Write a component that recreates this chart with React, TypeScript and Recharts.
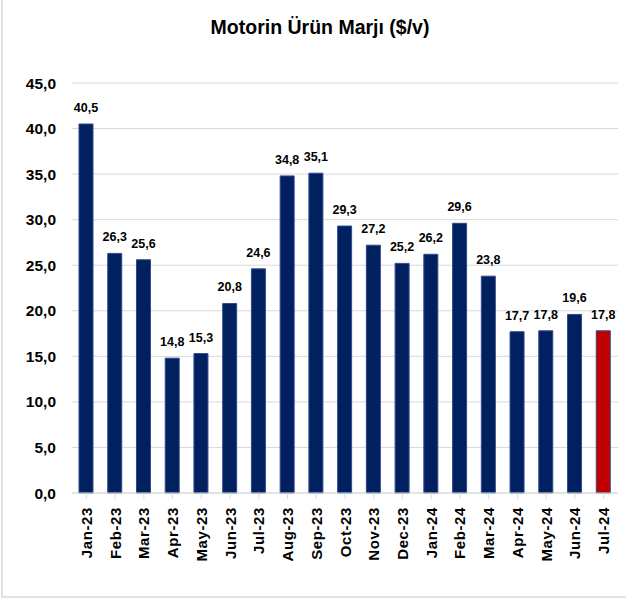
import React from "react";
import { BarChart, Bar, XAxis, YAxis, CartesianGrid, LabelList, Cell } from "recharts";

const months = [
    "Jan-23", "Feb-23", "Mar-23", "Apr-23", "May-23", "Jun-23", "Jul-23", "Aug-23", "Sep-23", "Oct-23",
    "Nov-23", "Dec-23", "Jan-24", "Feb-24", "Mar-24", "Apr-24", "May-24", "Jun-24", "Jul-24",
];
const margins = [40.5, 26.3, 25.6, 14.8, 15.3, 20.8, 24.6, 34.8, 35.1, 29.3, 27.2, 25.2, 26.2, 29.6, 23.8, 17.7, 17.8, 19.6, 17.8];
const yTicks = [0, 5, 10, 15, 20, 25, 30, 35, 40, 45];

const data = months.map((m, i) => ({ month: m, value: margins[i] }));

const fmt = (v: number) => v.toFixed(1).replace(".", ",");

const font = "'Liberation Sans', Arial, sans-serif";

const MonthTick = (props: any) => {
    const { x, y, payload } = props;
    return (
        <text
            x={x}
            y={y + 6}
            transform={`rotate(-90, ${x}, ${y + 6})`}
            textAnchor="end"
            dominantBaseline="central"
            fontFamily={font}
            fontWeight="bold"
            fontSize={15}
            letterSpacing={0.6}
            fill="#000"
        >
            {payload.value}
        </text>
    );
};

const App: React.FC = () => {
    return (
        <div style={{ position: "absolute", left: 0, top: 0, width: 626, height: 601, background: "#fff" }}>
            <svg width={626} height={601} style={{ position: "absolute", left: 0, top: 0 }}>
                <rect x={2} y={-2} width={640} height={599} fill="none" stroke="#d9d9d9" strokeWidth={1.5} />
            </svg>
            <div
                style={{
                    position: "absolute",
                    top: 16,
                    left: 0,
                    width: 640,
                    textAlign: "center",
                    fontFamily: font,
                    fontWeight: "bold",
                    fontSize: 19.5,
                    color: "#000",
                }}
            >
                Motorin Ürün Marjı ($/v)
            </div>
            <div style={{ position: "absolute", left: 0, top: 0 }}>
                <BarChart
                    width={626}
                    height={601}
                    data={data}
                    margin={{ top: 83, right: 8, bottom: 38, left: 0 }}
                    barCategoryGap="25%"
                >
                    <CartesianGrid vertical={false} stroke="#d9d9d9" />
                    <XAxis
                        dataKey="month"
                        interval={0}
                        height={70}
                        tick={<MonthTick />}
                        axisLine={{ stroke: "#d9d9d9" }}
                        tickLine={{ stroke: "#d9d9d9" }}
                    />
                    <YAxis
                        domain={[0, 45]}
                        ticks={yTicks}
                        width={72}
                        tickFormatter={fmt}
                        axisLine={false}
                        tickLine={false}
                        tick={{ fontFamily: font, fontWeight: "bold", fontSize: 15.5, fill: "#000" }}
                        tickMargin={10}
                    />
                    <Bar dataKey="value" fill="#002060" stroke="#2f4a8a" strokeWidth={1} barSize={14} isAnimationActive={false}>
                        {data.map((d, i) => (
                            <Cell key={d.month} fill={i === data.length - 1 ? "#c00000" : "#002060"} />
                        ))}
                        <LabelList
                            dataKey="value"
                            position="top"
                            offset={12}
                            formatter={(v: any) => fmt(Number(v))}
                            style={{ fontFamily: font, fontWeight: "bold", fontSize: 12.5, fill: "#000" }}
                        />
                    </Bar>
                </BarChart>
            </div>
        </div>
    );
};

export default App;
